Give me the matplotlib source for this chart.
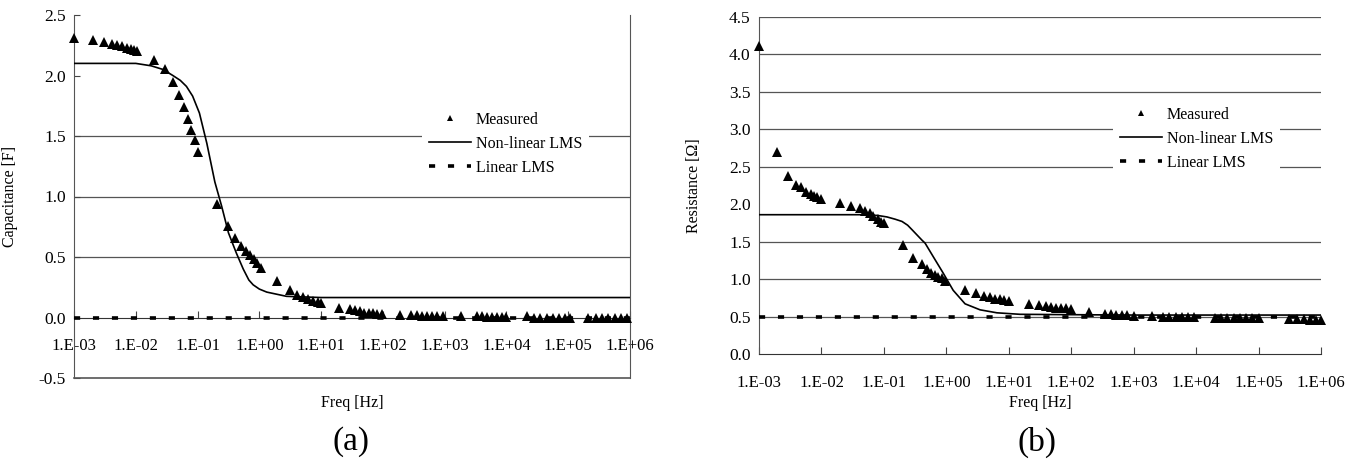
import numpy as np
import matplotlib
matplotlib.use('Agg')
import matplotlib.pyplot as plt
from matplotlib.ticker import FixedLocator, FuncFormatter, NullLocator

plt.rcParams['font.family'] = ['Liberation Serif', 'DejaVu Serif']

# (a) capacitance -- log10(freq) / value pairs
a_meas_logf = [-3.0, -2.69, -2.51, -2.39, -2.30, -2.22, -2.15, -2.08, -2.03, -1.98,
               -1.70, -1.53, -1.39, -1.30, -1.22, -1.15, -1.10, -1.04, -0.99,
               -0.69, -0.51, -0.39, -0.30, -0.22, -0.15, -0.09, -0.03, 0.02,
               0.29, 0.50, 0.61, 0.71, 0.79, 0.87, 0.95, 1.00,
               1.29, 1.47, 1.55, 1.63, 1.70, 1.77, 1.84, 1.91, 1.98,
               2.27, 2.46, 2.55, 2.63, 2.71, 2.80, 2.88, 2.97,
               3.27, 3.52, 3.60, 3.68, 3.76, 3.84, 3.92, 4.00,
               4.33, 4.45, 4.55, 4.65, 4.75, 4.85, 4.95, 5.03,
               5.32, 5.45, 5.55, 5.65, 5.75, 5.85, 5.95]
a_meas_val = [2.31, 2.29, 2.28, 2.26, 2.25, 2.24, 2.23, 2.22, 2.21, 2.20,
              2.13, 2.05, 1.95, 1.84, 1.74, 1.64, 1.55, 1.47, 1.37,
              0.94, 0.76, 0.66, 0.59, 0.55, 0.52, 0.48, 0.45, 0.41,
              0.30, 0.23, 0.19, 0.17, 0.15, 0.14, 0.13, 0.12,
              0.08, 0.07, 0.06, 0.05, 0.04, 0.04, 0.035, 0.03, 0.03,
              0.02, 0.02, 0.02, 0.015, 0.015, 0.01, 0.01, 0.01,
              0.01, 0.01, 0.01, 0.008, 0.008, 0.006, 0.006, 0.005,
              0.01, 0.0, 0.0, 0.0, 0.0, 0.0, 0.0, 0.0,
              0.0, 0.0, 0.0, 0.0, 0.0, 0.0, 0.0]
a_nl_logf = [-3.0, -2.0, -1.75, -1.56, -1.40, -1.28, -1.18, -1.08, -0.97, -0.85,
             -0.72, -0.61, -0.50, -0.37, -0.26, -0.17, -0.10, 0.0, 0.12, 0.44,
             1.0, 6.0]
a_nl_val = [2.10, 2.10, 2.08, 2.05, 2.00, 1.96, 1.91, 1.83, 1.69, 1.44,
            1.12, 0.92, 0.70, 0.53, 0.40, 0.31, 0.27, 0.235, 0.21, 0.175,
            0.165, 0.165]
a_lin_logf = [-3.0, 6.0]
a_lin_val = [0.0, 0.0]

# (b) resistance
b_meas_logf = [-3.0, -2.71, -2.54, -2.41, -2.33, -2.25, -2.17, -2.12, -2.07, -2.00,
               -1.70, -1.53, -1.39, -1.31, -1.23, -1.17, -1.10, -1.04, -1.00,
               -0.70, -0.53, -0.39, -0.31, -0.25, -0.18, -0.13, -0.07, -0.02,
               0.30, 0.48, 0.61, 0.70, 0.78, 0.86, 0.93, 1.00,
               1.32, 1.48, 1.59, 1.67, 1.75, 1.83, 1.91, 1.99,
               2.29, 2.54, 2.63, 2.72, 2.81, 2.90, 3.00,
               3.29, 3.47, 3.57, 3.67, 3.77, 3.87, 3.97,
               4.30, 4.40, 4.50, 4.60, 4.70, 4.80, 4.90, 5.00,
               5.48, 5.62, 5.72, 5.82, 5.92, 6.00]
b_meas_val = [4.11, 2.70, 2.38, 2.26, 2.23, 2.16, 2.13, 2.11, 2.09, 2.07,
              2.02, 1.98, 1.95, 1.91, 1.88, 1.84, 1.80, 1.76, 1.75,
              1.45, 1.28, 1.20, 1.13, 1.08, 1.05, 1.03, 1.01, 0.98,
              0.86, 0.82, 0.77, 0.76, 0.74, 0.73, 0.72, 0.71,
              0.67, 0.65, 0.64, 0.63, 0.62, 0.61, 0.61, 0.60,
              0.56, 0.53, 0.53, 0.52, 0.52, 0.52, 0.51,
              0.51, 0.50, 0.50, 0.50, 0.49, 0.49, 0.49,
              0.48, 0.48, 0.48, 0.48, 0.48, 0.48, 0.48, 0.48,
              0.47, 0.47, 0.47, 0.46, 0.46, 0.45]
b_nl_logf = [-3.0, -1.33, -1.10, -0.95, -0.82, -0.71, -0.62, -0.55, -0.39, -0.34,
             -0.21, -0.05, 0.11, 0.30, 0.54, 0.81, 1.18, 2.0, 3.0, 6.0]
b_nl_val = [1.86, 1.86, 1.85, 1.83, 1.80, 1.77, 1.72, 1.66, 1.52, 1.48,
            1.30, 1.08, 0.85, 0.67, 0.59, 0.55, 0.53, 0.525, 0.52, 0.52]
b_lin_logf = [-3.0, 6.0]
b_lin_val = [0.5, 0.5]

decades = [1e-3, 1e-2, 1e-1, 1e0, 1e1, 1e2, 1e3, 1e4, 1e5, 1e6]


def fmt_freq(v, pos):
    e = int(round(np.log10(v)))
    return f"1.E{'+' if e >= 0 else '-'}{abs(e):02d}"


def draw(ax, meas_logf, meas_val, nl_logf, nl_val, lin_logf, lin_val,
         ylim, grid_levels, zero_y, ylabel, legend_xy):
    ax.set_xscale('log')
    ax.set_xlim(1e-3, 1e6)
    ax.set_ylim(*ylim)
    for g in grid_levels:
        ax.axhline(g, color='#555555', lw=0.9, zorder=1)
    ax.plot(10 ** np.array(lin_logf), lin_val, color='black', lw=2.6,
            dashes=(1.7, 3.55), dash_capstyle='butt', label='Linear LMS', zorder=3)
    ax.plot(10 ** np.array(nl_logf), nl_val, color='black', lw=1.2,
            label='Non-linear LMS', zorder=3)
    ax.plot(10 ** np.array(meas_logf), meas_val, '^', color='black', ms=6.5,
            mew=0, label='Measured', zorder=4, clip_on=False)

    ax.xaxis.set_major_locator(FixedLocator(decades))
    ax.xaxis.set_minor_locator(NullLocator())
    ax.xaxis.set_major_formatter(FuncFormatter(fmt_freq))
    ax.tick_params(axis='x', direction='in', length=5, width=0.8, pad=15,
                   labelsize=12, color='#444444')
    ax.tick_params(axis='y', direction='in', length=4, width=0.8, pad=6,
                   labelsize=12.5, color='#444444')
    ax.set_yticks(np.arange(ylim[0], ylim[1] + 0.01, 0.5))
    ax.yaxis.set_major_formatter(FuncFormatter(lambda v, p: f"{v:.1f}"))

    ax.spines['top'].set_visible(False)
    ax.spines['bottom'].set_position(('data', zero_y))
    ax.spines['bottom'].set_color('#333333')
    ax.spines['left'].set_color('#555555')

    ax.set_ylabel(ylabel, fontsize=11.5)
    ax.set_xlabel('Freq [Hz]', fontsize=11.5)

    handles, labels = ax.get_legend_handles_labels()
    order = [2, 1, 0]
    leg = ax.legend([handles[i] for i in order], [labels[i] for i in order],
                    loc='center left', bbox_to_anchor=legend_xy, borderaxespad=0,
                    frameon=True, fancybox=False, edgecolor='none', facecolor='white',
                    framealpha=1, fontsize=11.5, handlelength=2.6, handletextpad=0.3,
                    labelspacing=0.5, borderpad=0.45, markerscale=0.75)
    leg.set_zorder(2)
    return ax


fig = plt.figure(figsize=(13.56, 4.66), dpi=100)

ax_a = fig.add_axes([74 / 1356, (466 - 378) / 466, 556 / 1356, 363 / 466])
draw(ax_a, a_meas_logf, a_meas_val, a_nl_logf, a_nl_val, a_lin_logf, a_lin_val,
     (-0.5, 2.5), [0.5, 1.0, 1.5], 0.0, 'Capacitance [F]', (0.626, 0.645))
ax_a.spines['right'].set_color('#555555')
ax_a.axhline(-0.5, color='#555555', lw=1.2, clip_on=False, zorder=5)
ax_a.yaxis.set_label_coords(-0.10, 0.5)
ax_a.xaxis.set_label_coords(0.5, -0.069)
ax_a.xaxis.label.set_va('center')

ax_b = fig.add_axes([759 / 1356, (466 - 354) / 466, 562 / 1356, 337 / 466])
draw(ax_b, b_meas_logf, b_meas_val, b_nl_logf, b_nl_val, b_lin_logf, b_lin_val,
     (0.0, 4.5), [0.5, 1.0, 1.5, 2.5, 3.0, 3.5, 4.0, 4.5], 0.0,
     'Resistance [\u03a9]', (0.630, 0.638))
ax_b.spines['right'].set_visible(False)
ax_b.tick_params(axis='y', length=0)
ax_b.yaxis.set_label_coords(-0.101, 0.5)
ax_b.xaxis.set_label_coords(0.5, -0.145)
ax_b.xaxis.label.set_va('center')

fig.text(351 / 1356, 1 - 442 / 466, '(a)', fontsize=24, ha='center', va='center')
fig.text(1037 / 1356, 1 - 442 / 466, '(b)', fontsize=24, ha='center', va='center')

fig.savefig('out.png', dpi=100)
